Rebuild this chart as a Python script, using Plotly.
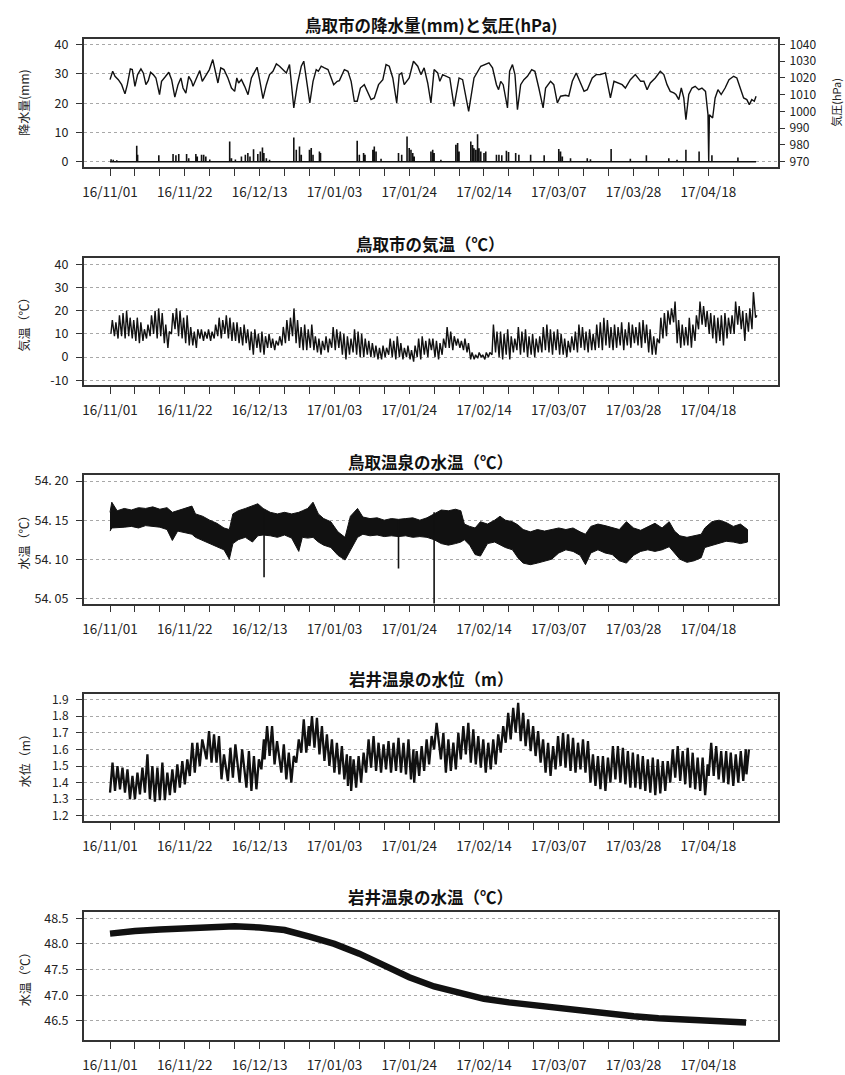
import pandas as pd
import plotly.graph_objects as go

BASE = pd.Timestamp("2016-11-01")


def dts(days):
    return [BASE + pd.Timedelta(days=float(d)) for d in days]


# ---------------- x ticks ----------------
tick_days = list(range(0, 176, 7))
tick_labels = ["16/11/01", "16/11/22", "16/12/13", "17/01/03", "17/01/24",
               "17/02/14", "17/03/07", "17/03/28", "17/04/18"]

# ---------------- panel 1: pressure (hPa) ----------------
pres_day = [0.0, 0.75, 1.4, 2.33, 3.27, 4.2, 4.86, 5.7, 6.26, 7.0, 7.75, 8.68, 9.34, 10.08, 10.74,
            11.39, 12.14, 12.89, 13.9, 14.47, 15.4, 16.5, 17.3, 18.2, 19.1, 19.9, 20.5, 21.3, 22.1,
            22.9, 23.3, 24.3, 25.2, 25.9, 26.8, 27.9, 28.85, 29.4, 30.3, 31.1, 32.0, 33.1, 34.1,
            35.0, 35.6, 36.1, 36.9, 37.8, 38.75, 39.7, 40.6, 41.3, 42.0, 42.95, 43.9, 44.8, 45.75,
            46.7, 47.6, 48.55, 49.5, 50.4, 51.1, 51.6, 52.6, 53.7, 54.4, 55.3, 56.1, 57.0, 57.9,
            58.5, 59.3, 60.2, 61.2, 62.1, 62.8, 63.8, 64.4, 65.8, 66.8, 67.7, 68.6, 69.4, 70.3,
            71.4, 72.4, 73.3, 74.2, 75.4, 76.6, 77.5, 78.4, 79.4, 80.5, 81.2, 81.9, 82.6, 84.0,
            85.2, 86.4, 87.3, 88.2, 89.2, 90.1, 90.85,
            91.0, 92.0, 92.6, 93.4, 94.5, 95.4, 96.6, 98.0, 99.0, 100.7, 102.2, 104.1, 106.4, 107.4,
            108.5, 109.1, 109.7, 110.4, 111.6, 112.2, 113.0, 113.7, 114.4, 115.3, 116.2, 117.2,
            118.4, 119.3, 120.4, 121.6, 122.3, 123.7, 124.6, 125.6, 126.5, 127.9, 128.8, 129.8,
            130.9, 131.8, 133.1, 134.0, 135.4, 136.5, 137.7, 139.1, 139.9, 140.5, 141.5, 142.7,
            143.8, 144.7, 146.1, 147.5, 149.0, 149.9, 150.8, 151.7, 153.1, 154.5, 155.5, 156.4,
            157.3, 158.3, 158.9, 159.7, 160.4, 161.1, 161.7, 162.5, 163.4, 164.3, 165.3, 166.2,
            167.2, 167.9, 168.1, 168.3, 169.2, 169.9, 170.7, 171.6, 172.7, 173.8, 175.1, 176.0,
            176.9, 177.9, 178.8, 179.5, 180.2, 180.9, 181.4]
pres_hpa = [1019.0, 1024.0, 1021.0, 1019.0, 1016.0, 1010.5, 1016.0, 1025.4, 1025.0, 1015.0, 1022.0,
            1025.4, 1023.0, 1016.0, 1018.4, 1023.4, 1022.0, 1020.0, 1010.1, 1018.0, 1020.4, 1023.4,
            1019.0, 1008.6, 1016.0, 1020.0, 1014.0, 1011.0, 1021.0, 1018.0, 1015.0, 1020.0, 1024.4,
            1018.0, 1021.0, 1025.0, 1031.0, 1026.0, 1017.0, 1026.0, 1025.0, 1020.0, 1014.0, 1012.0,
            1020.0, 1017.0, 1019.0, 1015.0, 1010.0, 1020.0, 1024.0, 1026.4, 1019.0, 1007.7, 1016.0,
            1022.0, 1024.0, 1028.4, 1027.0, 1025.0, 1023.0, 1028.0, 1012.0, 1002.1, 1016.0, 1027.0,
            1030.0, 1018.0, 1005.1, 1018.0, 1025.0, 1024.0, 1027.0, 1026.0, 1025.0, 1020.0, 1016.0,
            1018.0, 1018.4, 1025.0, 1024.0, 1018.0, 1006.1, 1006.1, 1014.0, 1016.0, 1011.0, 1007.1,
            1008.1, 1016.0, 1019.0, 1028.0, 1027.0, 1020.0, 1005.1, 1022.0, 1023.0, 1016.0, 1020.0,
            1030.0, 1027.0, 1022.0, 1026.0, 1017.0, 1005.1, 1020.0,
            1025.0, 1023.0, 1018.0, 1022.0, 1021.0, 1020.0, 1003.1, 1020.0, 1019.0, 1000.1, 1020.0,
            1027.0, 1029.0, 1026.0, 1016.0, 1013.0, 1018.0, 1016.0, 1002.1, 1024.0, 1028.0, 1022.0,
            1001.1, 1016.0, 1019.0, 1021.0, 1025.0, 1024.0, 1014.0, 1002.1, 1014.0, 1018.0, 1016.0,
            1005.1, 1009.1, 1009.7, 1009.1, 1018.0, 1023.0, 1018.0, 1012.0, 1013.0, 1020.0, 1022.0,
            1022.0, 1023.0, 1014.0, 1008.1, 1018.0, 1017.0, 1016.0, 1014.0, 1019.0, 1022.0, 1018.0,
            1018.0, 1013.0, 1017.0, 1020.0, 1024.0, 1022.0, 1016.0, 1012.0, 1011.1, 1010.1, 1007.1,
            1014.0, 1008.1, 995.1, 1010.1, 1014.0, 1015.0, 1013.0, 1014.0, 1012.0, 998.1, 970.2,
            998.1, 996.1, 1008.1, 1013.0, 1010.1, 1014.0, 1019.0, 1021.0, 1020.0, 1014.0, 1008.1,
            1007.1, 1004.1, 1007.1, 1006.1, 1009.1]

# ---------------- panel 1: precipitation (mm) ----------------
rain_period = [0.0, 181.4]
rain_day = [0.3, 0.9, 1.9, 5.1, 7.5, 7.75, 13.7, 17.7, 18.5, 19.3,
            21.5, 22.1, 24.1, 24.5, 25.7, 26.3, 26.9, 28.0, 33.6, 34.1,
            35.2, 36.9, 38.0, 38.7, 39.3, 40.3, 41.5, 42.2, 42.8, 43.2,
            43.9, 44.8, 51.6, 52.3, 53.2, 53.7, 56.0, 56.5, 57.0, 58.8,
            59.1, 63.5, 69.4, 70.0, 71.2, 71.6, 73.8, 74.2, 74.7, 76.1,
            81.0, 81.9, 83.4, 84.0, 84.5, 85.0, 85.4, 90.1, 90.6, 91.0,
            92.9, 97.1, 97.6, 98.0, 101.3, 101.8, 102.2, 102.7, 103.2, 103.6,
            104.1, 105.0, 105.5, 108.5, 109.2, 110.0, 111.3, 111.9, 113.9, 114.8,
            118.1, 121.9, 126.0, 126.5, 127.0, 129.3, 134.0, 134.9, 140.7, 146.1,
            150.6, 156.9, 159.2, 161.7, 165.4, 169.0, 176.3]
rain_mm = [0.9, 0.7, 0.5, 0.3, 5.5, 2.4, 2.2, 2.7, 2.2, 2.7,
           2.7, 1.2, 2.7, 1.8, 2.4, 2.4, 1.8, 0.8, 6.9, 1.2,
           0.8, 1.8, 2.4, 3.0, 1.8, 4.3, 2.7, 3.5, 4.9, 3.0,
           1.2, 0.7, 8.3, 4.1, 5.2, 2.4, 4.1, 4.7, 2.4, 3.5,
           3.0, 0.3, 7.2, 2.4, 3.0, 2.4, 4.1, 5.2, 3.5, 1.0,
           3.0, 2.4, 8.6, 4.7, 4.1, 3.0, 1.8, 3.5, 4.1, 3.0,
           0.7, 5.8, 6.4, 3.5, 6.9, 5.7, 4.6, 4.1, 9.4, 4.6,
           3.5, 3.0, 3.5, 2.4, 2.4, 2.2, 3.8, 3.3, 3.0, 2.4,
           2.4, 2.2, 4.4, 3.5, 1.8, 1.2, 1.2, 0.9, 4.4, 1.0,
           2.2, 1.2, 0.7, 4.1, 3.5, 2.2, 1.5]

# ---------------- panel 2: air temperature, daily low / high ----------------
temp_hi = [16, 15, 18, 19, 20, 17, 16, 17, 15, 12,
           14, 18, 20, 21, 19, 14, 11, 19, 21, 20,
           17, 18, 13, 11, 12, 12, 11, 12, 11, 14,
           17, 16, 18, 17, 15, 15, 13, 14, 12, 11,
           12, 10, 11, 9, 10, 8, 7, 9, 13, 16,
           17, 21, 16, 13, 14, 12, 14, 9, 8, 7,
           9, 8, 13, 12, 11, 10, 9, 8, 12, 11,
           10, 8, 7, 6, 5, 4, 5, 4, 8, 7,
           9, 6, 4, 5, 3, 5, 8, 9, 7, 8,
           8, 7, 6, 8, 13, 11, 9, 8, 7, 8,
           6, 2, 1, 2, 1, 2, 2, 14, 11, 11,
           10, 12, 9, 8, 13, 11, 12, 9, 10, 8,
           9, 13, 14, 12, 11, 12, 10, 8, 7, 9,
           11, 14, 13, 11, 12, 10, 14, 15, 17, 16,
           13, 14, 13, 15, 12, 15, 14, 13, 15, 16,
           14, 12, 9, 8, 17, 19, 20, 21, 24, 16,
           14, 13, 17, 14, 18, 24, 22, 20, 19, 18,
           17, 18, 19, 17, 18, 24, 22, 20, 19, 21,
           28, 18]
temp_lo = [10, 9, 8, 9, 8, 9, 8, 7, 6, 7,
           8, 9, 10, 8, 9, 6, 4, 10, 12, 9,
           8, 6, 5, 5, 4, 8, 7, 8, 7, 8,
           9, 8, 10, 8, 7, 7, 6, 5, 6, 3,
           1, 4, 2, 1, 4, 4, 3, 5, 5, 6,
           7, 9, 6, 4, 3, 3, 4, 3, 2, 1,
           3, 2, 4, 3, 4, 1, -1, 1, 2, 1,
           0, 0, 1, 0, 0, -1, -1, 0, 1, 0,
           -1, 0, -1, 0, -1, -2, 0, -1, 1, 0,
           3, 0, -1, 1, 4, 4, 3, 5, 4, 3,
           2, -1, -1, -0.5, 0, -1, 0, 1, 2, 0,
           -1, 1, -1, 2, 3, 1, 2, 0, 1, 0,
           2, 2, 3, 2, 1, 3, 1, 1, 0, 2,
           3, 2, 4, 3, 2, 3, 3, 4, 3, 5,
           4, 3, 4, 5, 3, 5, 4, 6, 5, 4,
           6, 2, 1, 1, 6, 8, 9, 14, 15, 6,
           4, 5, 5, 4, 7, 12, 14, 13, 10, 8,
           6, 7, 5, 8, 10, 10, 14, 12, 7, 11,
           12, 17]

# ---------------- panel 3: Tottori onsen water temperature envelope ----------------
onsen_day = [0, 0.5, 2, 4, 6, 8, 10, 12, 14, 16,
             17.5, 19, 21, 23, 24, 26, 28, 30, 32, 33.5,
             34.5, 36, 38, 40, 41.5, 43, 45, 47, 49, 51,
             53, 54, 55.5, 57, 58.5, 60, 62, 64, 66, 67.5,
             69.5, 71, 73, 75, 77, 79, 81, 83, 85, 87,
             89, 91, 93, 95, 97, 98.5, 99.5, 101, 102.5, 104,
             106, 108, 109.5, 111, 113, 114.5, 116, 118, 120, 122,
             124, 126, 128, 130, 132, 133.5, 135, 137, 139, 141,
             143, 145, 147, 149, 151, 153, 155, 157, 158.5, 160,
             162, 164, 166, 167, 169, 171, 173, 175, 177, 179]
onsen_hi = [54.160, 54.173, 54.162, 54.165, 54.163, 54.166, 54.165, 54.167, 54.164, 54.166,
            54.160, 54.162, 54.165, 54.168, 54.158, 54.155, 54.150, 54.146, 54.140, 54.138,
            54.158, 54.162, 54.165, 54.168, 54.171, 54.165, 54.160, 54.158, 54.160, 54.158,
            54.160, 54.162, 54.165, 54.173, 54.158, 54.152, 54.148, 54.135, 54.128, 54.155,
            54.165, 54.154, 54.152, 54.153, 54.150, 54.152, 54.151, 54.152, 54.153, 54.150,
            54.153, 54.158, 54.163, 54.162, 54.164, 54.162, 54.145, 54.142, 54.140, 54.148,
            54.145, 54.150, 54.155, 54.150, 54.148, 54.144, 54.138, 54.135, 54.138, 54.136,
            54.138, 54.140, 54.138, 54.140, 54.135, 54.132, 54.142, 54.145, 54.143, 54.140,
            54.138, 54.148, 54.140, 54.137, 54.142, 54.146, 54.140, 54.148, 54.136, 54.130,
            54.128, 54.130, 54.132, 54.140, 54.148, 54.150, 54.147, 54.142, 54.145, 54.138]
onsen_lo = [54.136, 54.140, 54.140, 54.141, 54.142, 54.140, 54.143, 54.142, 54.141, 54.138,
            54.124, 54.136, 54.134, 54.132, 54.128, 54.124, 54.120, 54.116, 54.112, 54.100,
            54.120, 54.125, 54.128, 54.122, 54.130, 54.131, 54.130, 54.128, 54.131, 54.127,
            54.110, 54.128, 54.127, 54.128, 54.122, 54.118, 54.115, 54.105, 54.099, 54.112,
            54.128, 54.132, 54.130, 54.131, 54.129, 54.130, 54.129, 54.130, 54.128, 54.129,
            54.128, 54.125, 54.120, 54.118, 54.120, 54.122, 54.125, 54.118, 54.106, 54.104,
            54.120, 54.122, 54.118, 54.115, 54.112, 54.102, 54.095, 54.093, 54.095, 54.097,
            54.100, 54.108, 54.112, 54.110, 54.105, 54.093, 54.108, 54.112, 54.108, 54.106,
            54.098, 54.095, 54.105, 54.110, 54.112, 54.110, 54.112, 54.116, 54.108, 54.100,
            54.096, 54.098, 54.102, 54.115, 54.118, 54.120, 54.123, 54.122, 54.120, 54.122]
spike_day = [43.25, 81.0, 91.0]
spike_top = [54.160, 54.150, 54.160]
spike_bottom = [54.077, 54.088, 54.040]

# ---------------- panel 4: Iwai onsen water level (low / high) ----------------
lvl_day = [0.0, 1.4, 2.8, 4.2, 5.6, 7.0, 8.4, 9.8, 11.2, 12.6,
           14.0, 15.4, 16.8, 18.2, 19.6, 21.0, 22.4, 23.8, 25.2, 27.1,
           28.5, 29.9, 31.3, 33.1, 34.5, 36.4, 38.3, 39.7, 41.1, 42.5,
           43.4, 44.8, 46.2, 48.1, 49.5, 50.9, 52.3, 53.7, 55.1, 56.0,
           57.4, 58.8, 60.2, 61.6, 63.0, 64.4, 65.8, 66.8, 67.7, 69.1,
           70.5, 71.9, 73.3, 74.7, 76.1, 77.5, 78.9, 80.3, 81.7, 83.1,
           84.5, 85.4, 86.8, 88.2, 89.6, 91.0,
           92.9, 94.3, 95.7, 97.1, 98.5, 99.9, 101.3, 102.7, 104.1, 105.5,
           106.9, 108.3, 109.7, 111.1, 112.5, 113.9, 115.3, 116.7, 118.1, 119.5,
           120.9, 122.3, 123.7, 125.1, 126.5, 127.9, 129.3, 130.7, 132.1, 133.5,
           134.9, 136.3, 137.7, 139.1, 140.5, 141.9, 143.3, 144.7, 146.1, 147.5,
           148.9, 150.3, 151.7, 153.1, 154.5, 155.9, 157.3, 158.7, 160.1, 161.5,
           162.9, 164.3, 165.7, 167.1, 168.1, 169.5, 170.9, 172.3, 173.6, 175.0,
           176.4, 177.8, 178.7]
lvl_hi = [1.52, 1.50, 1.49, 1.48, 1.44, 1.46, 1.49, 1.57, 1.50, 1.49,
          1.52, 1.46, 1.48, 1.51, 1.53, 1.54, 1.64, 1.64, 1.66, 1.71,
          1.69, 1.68, 1.57, 1.61, 1.63, 1.60, 1.59, 1.56, 1.54, 1.66,
          1.74, 1.74, 1.65, 1.63, 1.58, 1.56, 1.66, 1.78, 1.74, 1.80,
          1.79, 1.74, 1.69, 1.66, 1.64, 1.62, 1.57, 1.56, 1.54, 1.56,
          1.58, 1.66, 1.68, 1.64, 1.63, 1.65, 1.64, 1.67, 1.64, 1.66,
          1.60, 1.59, 1.62, 1.66, 1.68, 1.76,
          1.70, 1.66, 1.64, 1.70, 1.74, 1.76, 1.72, 1.68, 1.66, 1.64,
          1.66, 1.69, 1.74, 1.82, 1.85, 1.88, 1.82, 1.78, 1.74, 1.71,
          1.66, 1.64, 1.62, 1.68, 1.70, 1.69, 1.67, 1.64, 1.66, 1.65,
          1.57, 1.56, 1.56, 1.55, 1.62, 1.62, 1.61, 1.59, 1.58, 1.57,
          1.56, 1.54, 1.55, 1.54, 1.53, 1.53, 1.60, 1.62, 1.59, 1.61,
          1.58, 1.55, 1.55, 1.51, 1.64, 1.62, 1.59, 1.59, 1.58, 1.57,
          1.59, 1.60, 1.60]
lvl_lo = [1.34, 1.35, 1.36, 1.34, 1.30, 1.30, 1.33, 1.34, 1.30, 1.285,
          1.295, 1.295, 1.325, 1.34, 1.37, 1.39, 1.44, 1.46, 1.50, 1.54,
          1.52, 1.52, 1.42, 1.41, 1.43, 1.40, 1.37, 1.35, 1.36, 1.48,
          1.54, 1.56, 1.51, 1.46, 1.42, 1.40, 1.52, 1.58, 1.58, 1.62,
          1.61, 1.57, 1.53, 1.50, 1.46, 1.45, 1.42, 1.38, 1.35, 1.37,
          1.40, 1.46, 1.49, 1.47, 1.46, 1.48, 1.46, 1.47, 1.46, 1.45,
          1.42, 1.40, 1.44, 1.47, 1.51, 1.60,
          1.54, 1.46, 1.47, 1.48, 1.54, 1.57, 1.52, 1.51, 1.49, 1.46,
          1.48, 1.51, 1.58, 1.64, 1.66, 1.70, 1.65, 1.62, 1.59, 1.56,
          1.52, 1.46, 1.44, 1.48, 1.50, 1.49, 1.47, 1.46, 1.48, 1.46,
          1.40, 1.38, 1.36, 1.35, 1.40, 1.42, 1.40, 1.39, 1.37, 1.37,
          1.36, 1.35, 1.34, 1.325, 1.335, 1.35, 1.40, 1.43, 1.41, 1.39,
          1.37, 1.36, 1.35, 1.325, 1.44, 1.44, 1.42, 1.40, 1.39, 1.38,
          1.40, 1.41, 1.45]

# ---------------- panel 5: Iwai onsen water temperature ----------------
iwai_day = [0, 3, 7, 14, 21, 28, 35, 42, 49, 56, 63, 70, 77, 84, 91, 98, 105,
            112, 119, 126, 133, 140, 147, 154, 161, 168, 178.6]
iwai_temp = [48.20, 48.23, 48.25, 48.28, 48.305, 48.335, 48.345, 48.32, 48.27, 48.14, 48.00,
             47.81, 47.58, 47.35, 47.17, 47.06, 46.93, 46.86, 46.80, 46.74, 46.69, 46.64,
             46.59, 46.55, 46.53, 46.50, 46.47]

# ---------------- styling ----------------
FONT = "Noto Sans CJK JP, Noto Sans, sans-serif"
INK = "#111111"
W, H = 845, 1075
XDOM = [82 / W, 778 / W]
# panel boxes (top, bottom) in pixels
boxes = [(34, 163), (255, 383), (474, 603), (694, 822), (914, 1043)]
ydoms = [[1 - b / H, 1 - t / H] for t, b in boxes]
title_px = [20, 241, 460, 679, 899]
titles = ["鳥取市の降水量(mm)と気圧(hPa)", "鳥取市の気温（℃）", "鳥取温泉の水温（℃）",
          "岩井温泉の水位（m）", "岩井温泉の水温（℃）"]
ytitles = ["降水量(mm)", "気温（℃）", "水温（℃）", "水位（m）", "水温（℃）"]

fig = go.Figure()

# panel 1
rx, ry = [rain_period[0]], [0]
for d, v in zip(rain_day, rain_mm):
    rx += [d, d, d]
    ry += [0, v, 0]
rx.append(rain_period[1])
ry.append(0)
fig.add_trace(go.Scatter(x=dts(rx), y=ry, mode="lines", line=dict(color=INK, width=1.6),
                         xaxis="x", yaxis="y"))
fig.add_trace(go.Scatter(x=dts(pres_day), y=pres_hpa, mode="lines",
                         line=dict(color=INK, width=1.4), xaxis="x", yaxis="y6"))

# panel 2
tx, ty = [], []
for k, (lo, hi) in enumerate(zip(temp_lo, temp_hi)):
    tx += [k + 0.25, k + 0.65]
    ty += [lo, hi]
fig.add_trace(go.Scatter(x=dts(tx), y=ty, mode="lines", line=dict(color=INK, width=1.4),
                         xaxis="x2", yaxis="y2"))

# panel 3
fig.add_trace(go.Scatter(x=dts(onsen_day + onsen_day[::-1]), y=onsen_hi + onsen_lo[::-1],
                         mode="lines", fill="toself", fillcolor=INK,
                         line=dict(color=INK, width=1), xaxis="x3", yaxis="y3"))
sx, sy = [], []
for d, t, b in zip(spike_day, spike_top, spike_bottom):
    sx += [BASE + pd.Timedelta(days=d), BASE + pd.Timedelta(days=d), None]
    sy += [t, b, None]
fig.add_trace(go.Scatter(x=sx, y=sy, mode="lines", line=dict(color=INK, width=1.6),
                         xaxis="x3", yaxis="y3"))

# panel 4
lx, ly = [], []
for d, lo, hi in zip(lvl_day, lvl_lo, lvl_hi):
    lx += [d, d + 0.7]
    ly += [lo, hi]
fig.add_trace(go.Scatter(x=dts(lx), y=ly, mode="lines", line=dict(color=INK, width=2.3),
                         xaxis="x4", yaxis="y4"))

# panel 5
fig.add_trace(go.Scatter(x=dts(iwai_day), y=iwai_temp, mode="lines",
                         line=dict(color=INK, width=6.5), xaxis="x5", yaxis="y5"))

xrange = [(BASE + pd.Timedelta(days=-7.36)).isoformat(),
          (BASE + pd.Timedelta(days=187.6)).isoformat()]
tick_dates = dts(tick_days)
tick_text = [tick_labels[i // 3] if i % 3 == 0 else "" for i in range(len(tick_days))]

xtickfont = dict(family=FONT, size=13.5, color="#222222")
ytickfont = dict(family=FONT, size=12.5, color="#222222")
layout = dict(width=W, height=H, margin=dict(l=0, r=0, t=0, b=0),
              paper_bgcolor="white", plot_bgcolor="white", showlegend=False,
              font=dict(family=FONT, color="#222222"))

yspecs = [
    dict(range=[-1.7, 41.95], tickvals=[0, 10, 20, 30, 40], ticktext=["0", "10", "20", "30", "40"]),
    dict(range=[-12.1, 42.7], tickvals=[-10, 0, 10, 20, 30, 40],
         ticktext=["-10", "0", "10", "20", "30", "40"]),
    dict(range=[54.0433, 54.2072], tickvals=[54.05, 54.10, 54.15, 54.20],
         ticktext=["54. 05", "54. 10", "54. 15", "54. 20"]),
    dict(range=[1.170, 1.934], tickvals=[1.2, 1.3, 1.4, 1.5, 1.6, 1.7, 1.8, 1.9],
         ticktext=["1.2", "1.3", "1.4", "1.5", "1.6", "1.7", "1.8", "1.9"]),
    dict(range=[46.123, 48.617], tickvals=[46.5, 47.0, 47.5, 48.0, 48.5],
         ticktext=["46.5", "47.0", "47.5", "48.0", "48.5"]),
]

annotations = []
for i in range(5):
    n = "" if i == 0 else str(i + 1)
    layout["xaxis" + n] = dict(
        domain=XDOM, anchor="y" + n, type="date", range=xrange,
        tickmode="array", tickvals=tick_dates, ticktext=tick_text,
        ticks="outside", ticklen=7, tickwidth=1, tickcolor="#333333",
        ticklabelstandoff=5, tickfont=xtickfont,
        showline=True, mirror=True, linecolor="#333333", linewidth=1.6,
        showgrid=False, zeroline=False, fixedrange=True)
    layout["yaxis" + n] = dict(
        domain=ydoms[i], anchor="x" + n, tickmode="array",
        ticks="outside", ticklen=6, tickwidth=1, tickcolor="#333333",
        ticklabelstandoff=5, tickfont=(ytickfont if i != 3 else dict(ytickfont, size=12)),
        showline=True, mirror=True, linecolor="#333333", linewidth=1.6,
        showgrid=True, gridcolor="#a8a8a8", griddash="dot", gridwidth=1.3,
        zeroline=False, fixedrange=True, **yspecs[i])
    annotations.append(dict(text="<b>" + titles[i] + "</b>", xref="paper", yref="paper",
                            x=(XDOM[0] + XDOM[1]) / 2, y=1 - title_px[i] / H,
                            xanchor="center", yanchor="middle", showarrow=False,
                            font=dict(family=FONT, size=16.5, color="#111111")))
    annotations.append(dict(text=ytitles[i], xref="paper", yref="paper",
                            x=22 / W, y=(ydoms[i][0] + ydoms[i][1]) / 2, textangle=-90,
                            xanchor="center", yanchor="middle", showarrow=False,
                            font=dict(family=FONT, size=12, color="#222222")))

layout["yaxis6"] = dict(
    overlaying="y", side="right", anchor="x", range=[967.0, 1043.4],
    tickmode="array", tickvals=[970, 980, 990, 1000, 1010, 1020, 1030, 1040],
    ticktext=["970", "980", "990", "1000", "1010", "1020", "1030", "1040"],
    ticks="outside", ticklen=6, tickwidth=1, tickcolor="#333333",
    ticklabelstandoff=2, tickfont=dict(family=FONT, size=12, color="#222222"),
    showgrid=False, zeroline=False, showline=False, fixedrange=True)
annotations.append(dict(text="気圧(hPa)", xref="paper", yref="paper",
                        x=836 / W, y=(ydoms[0][0] + ydoms[0][1]) / 2, textangle=-90,
                        xanchor="center", yanchor="middle", showarrow=False,
                        font=dict(family=FONT, size=11, color="#222222")))
layout["annotations"] = annotations

fig.update_layout(**layout)
fig.write_html("out.html", config={"displayModeBar": False},
               post_script="document.body.style.margin='0px';")
